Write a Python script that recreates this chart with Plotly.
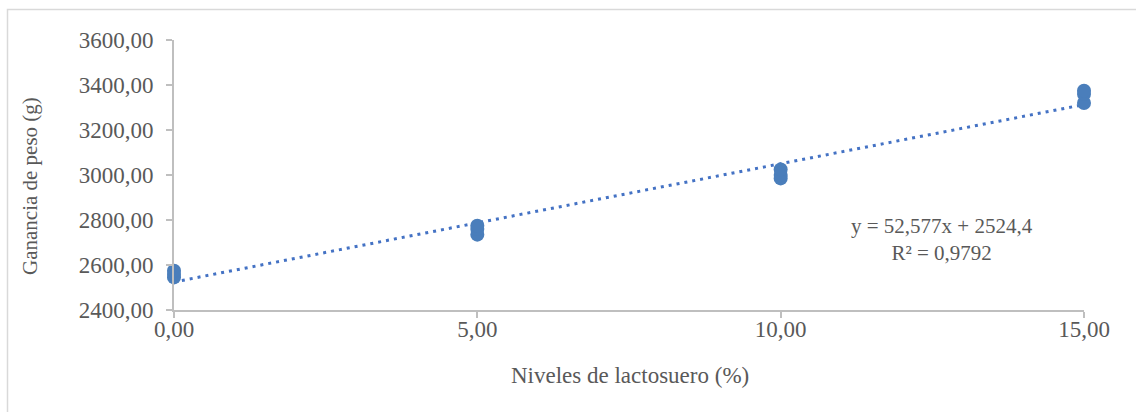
import plotly.graph_objects as go

# Lactose-serum levels (%) and weight gain (g) per replicate
niveles = [0, 0, 0, 5, 5, 5, 10, 10, 10, 15, 15, 15]
ganancia = [2545, 2560, 2575, 2735, 2760, 2775, 2985, 3000, 3025, 3320, 3360, 3375]

# Linear trend reported for the data
pendiente = 52.577
intercepto = 2524.4
r2 = 0.9792

x_ticks = [0, 5, 10, 15]
y_ticks = [2400, 2600, 2800, 3000, 3200, 3400, 3600]

AZUL = "#4a7ebb"
GRIS_TEXTO = "#595959"
GRIS_EJE = "#bfbfbf"
FUENTE = "Liberation Serif, Times New Roman, serif"

W, H = 1136, 412
ML, MR, MT, MB = 174, 52, 40, 102
PW, PH = W - ML - MR, H - MT - MB


def px_to_paper_x(px):
    return (px - ML) / PW


def px_to_paper_y(py):
    return (H - MB - py) / PH


def coma(v, dec):
    return f"{v:.{dec}f}".replace(".", ",")


fig = go.Figure()

# Trend line drawn from the stated equation
xt = [x_ticks[0], x_ticks[-1]]
yt = [pendiente * v + intercepto for v in xt]
fig.add_trace(go.Scatter(
    x=xt, y=yt, mode="lines",
    line=dict(color="#4472c4", width=3, dash="3px,5px"),
    hoverinfo="skip", showlegend=False, cliponaxis=False,
))

fig.add_trace(go.Scatter(
    x=niveles, y=ganancia, mode="markers",
    marker=dict(color=AZUL, size=14, line=dict(width=0)),
    showlegend=False, cliponaxis=False,
))

fig.update_xaxes(
    range=[0, 15], tickvals=x_ticks, tickformat=".2f",
    showgrid=False, zeroline=False,
    showline=True, linecolor=GRIS_EJE, linewidth=2,
    ticks="outside", ticklen=6, tickcolor=GRIS_EJE, tickwidth=2,
    ticklabelstandoff=-9,
    tickfont=dict(family=FUENTE, size=23, color=GRIS_TEXTO),
)
fig.update_yaxes(
    range=[2400, 3600], tickvals=y_ticks, tickformat=".2f",
    showgrid=False, zeroline=False,
    showline=True, linecolor=GRIS_EJE, linewidth=2,
    ticks="outside", ticklen=6, tickcolor=GRIS_EJE, tickwidth=2,
    ticklabelstandoff=8,
    tickfont=dict(family=FUENTE, size=23, color=GRIS_TEXTO),
)

anotaciones = [
    dict(text="Ganancia de peso (g)", textangle=-90, size=21,
         x=px_to_paper_x(30), y=px_to_paper_y(186)),
    dict(text="Niveles de lactosuero (%)", size=23,
         x=px_to_paper_x(630), y=px_to_paper_y(375)),
    dict(text=f"y = {coma(pendiente, 3)}x + {coma(intercepto, 1)}<br>R² = {coma(r2, 4)}",
         size=21, x=px_to_paper_x(942), y=px_to_paper_y(239)),
]
for a in anotaciones:
    size = a.pop("size")
    fig.add_annotation(
        xref="paper", yref="paper", showarrow=False,
        xanchor="center", yanchor="middle", align="center",
        font=dict(family=FUENTE, size=size, color=GRIS_TEXTO), **a,
    )

# Chart frame
fig.add_shape(
    type="rect", xref="paper", yref="paper", layer="below",
    x0=px_to_paper_x(7.5), x1=px_to_paper_x(W + 5),
    y0=px_to_paper_y(H + 5), y1=px_to_paper_y(9.5),
    line=dict(color="#d9d9d9", width=1.5), fillcolor="rgba(0,0,0,0)",
)

fig.update_layout(
    width=W, height=H,
    margin=dict(l=ML, r=MR, t=MT, b=MB),
    paper_bgcolor="white", plot_bgcolor="white",
    separators=",.",
)

fig.write_html("out.html")
